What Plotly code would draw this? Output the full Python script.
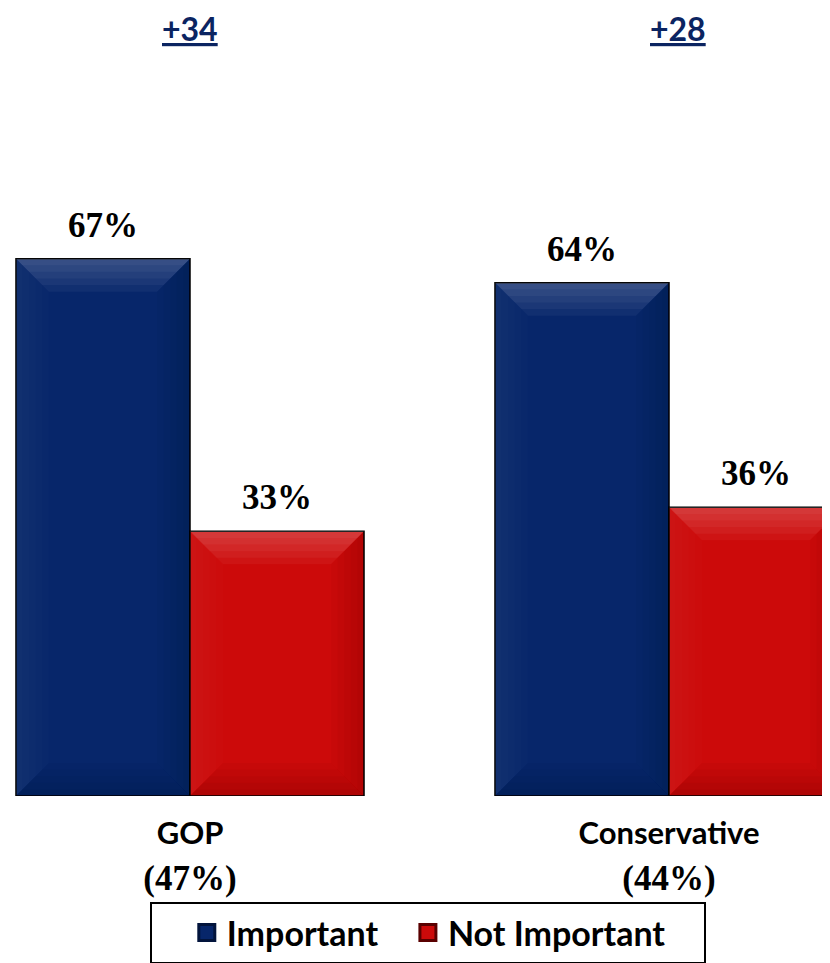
import plotly.graph_objects as go

# ---- data ----
categories = ["GOP", "Conservative"]
category_shares = ["(47%)", "(44%)"]
series_names = ["Important", "Not Important"]
important = [67, 64]
not_important = [33, 36]
margins = ["+34", "+28"]

BLUE = "#07266A"
RED = "#CC0A0A"
BLUE_EDGE = "#02143C"
RED_EDGE = "#5A0000"
NAVY_TEXT = "#0B2461"
SANS = "Lato"
SERIF = "Liberation Serif, Times New Roman, serif"

# page is drawn with an 8px body offset; geometry below is in figure pixels
BARGAP = 0.2734
X_RANGE = [-0.37996, 1.3528]
Y_RANGE = [0, 91.77]
PX_PER_X = 479.0
PX_PER_Y = 8.02
BEVEL_PX = 33
BEVEL_LAYERS = 5

fig = go.Figure()

series_vals = [important, not_important]
colors = [BLUE, RED]
edges = [BLUE_EDGE, RED_EDGE]
for name, vals, col in zip(series_names, series_vals, colors):
    fig.add_trace(go.Bar(
        x=list(range(len(categories))), y=vals, name=name,
        marker=dict(color=col, line=dict(color="#000000", width=1.5)),
        showlegend=False, hoverinfo="skip",
    ))

# legend entries (square swatches)
for name, col, ed, pad in zip(series_names, colors, edges, [3, 4]):
    fig.add_trace(go.Scatter(
        x=[None], y=[None], mode="markers", name=name + "\u00a0" * pad,
        marker=dict(symbol="square", size=16, color=col,
                    line=dict(color=ed, width=3)),
    ))

# bevel shading on each bar (derived from the data values)
bar_w = (1 - BARGAP) / len(series_vals)
dx = BEVEL_PX / PX_PER_X
dy = BEVEL_PX / PX_PER_Y
faces = {
    "top": ("white", 0.045),
    "bottom": ("black", 0.028),
    "left": ("white", 0.012),
    "right": ("black", 0.022),
}
for j, vals in enumerate(series_vals):
    for i, v in enumerate(vals):
        xc = i + (j - (len(series_vals) - 1) / 2) * bar_w
        x0, x1 = xc - bar_w / 2, xc + bar_w / 2
        for k in range(1, BEVEL_LAYERS + 1):
            fx, fy = dx * k / BEVEL_LAYERS, dy * k / BEVEL_LAYERS
            polys = {
                "top": [(x0, v), (x1, v), (x1 - fx, v - fy), (x0 + fx, v - fy)],
                "bottom": [(x0, 0), (x1, 0), (x1 - fx, fy), (x0 + fx, fy)],
                "left": [(x0, 0), (x0, v), (x0 + fx, v - fy), (x0 + fx, fy)],
                "right": [(x1, 0), (x1, v), (x1 - fx, v - fy), (x1 - fx, fy)],
            }
            for face, pts in polys.items():
                c, op = faces[face]
                path = "M " + " L ".join(f"{px},{py}" for px, py in pts) + " Z"
                fig.add_shape(type="path", path=path, xref="x", yref="y",
                              fillcolor=c, opacity=op, line=dict(width=0),
                              layer="above")

# value labels above bars
for j, vals in enumerate(series_vals):
    for i, v in enumerate(vals):
        fig.add_annotation(
            x=i + (j - (len(series_vals) - 1) / 2) * bar_w, y=v,
            xref="x", yref="y", text=f"<b>{v}%</b>", showarrow=False,
            yanchor="bottom", yshift=12,
            font=dict(family=SERIF, size=35, color="#000000"),
        )

# margin labels at top
for i, m in enumerate(margins):
    fig.add_annotation(
        x=i, y=1.043, xref="x", yref="paper", text=f"<b>{m}</b>",
        showarrow=False, yanchor="middle", xshift=(0 if i == 0 else 9),
        font=dict(family=SANS, size=32, color=NAVY_TEXT, lineposition="under"),
    )

ticktext = [
    f"<span style='font-family:{SANS};font-size:31px'><b>{c}</b></span><br>"
    f"<b>{s}</b>"
    for c, s in zip(categories, category_shares)
]

fig.update_layout(
    width=830, height=963,
    margin=dict(l=0, r=0, t=52, b=175, pad=0, autoexpand=False),
    paper_bgcolor="white", plot_bgcolor="white",
    barmode="group", bargap=BARGAP, bargroupgap=0,
    xaxis=dict(
        range=X_RANGE, tickmode="array", automargin=False,
        tickvals=list(range(len(categories))), ticktext=ticktext,
        tickfont=dict(family=SERIF, size=35, color="#000000"),
        showgrid=False, zeroline=False, showline=False, ticks="",
        ticklabelstandoff=12,
    ),
    yaxis=dict(range=Y_RANGE, visible=False, showgrid=False, zeroline=False,
               automargin=False),
    legend=dict(
        orientation="h", xref="container", yref="container",
        x=142 / 830, xanchor="left", y=1 - 894 / 963, yanchor="top",
        bordercolor="#000000", borderwidth=2, bgcolor="white",
        font=dict(family=SANS, size=34, color="#000000", weight="bold"),
        title=dict(text="\u00a0" * 3, side="left",
                   font=dict(family=SANS, size=34)),
        itemclick=False, itemdoubleclick=False,
    ),
    showlegend=True,
)

fig.write_html("out.html")
